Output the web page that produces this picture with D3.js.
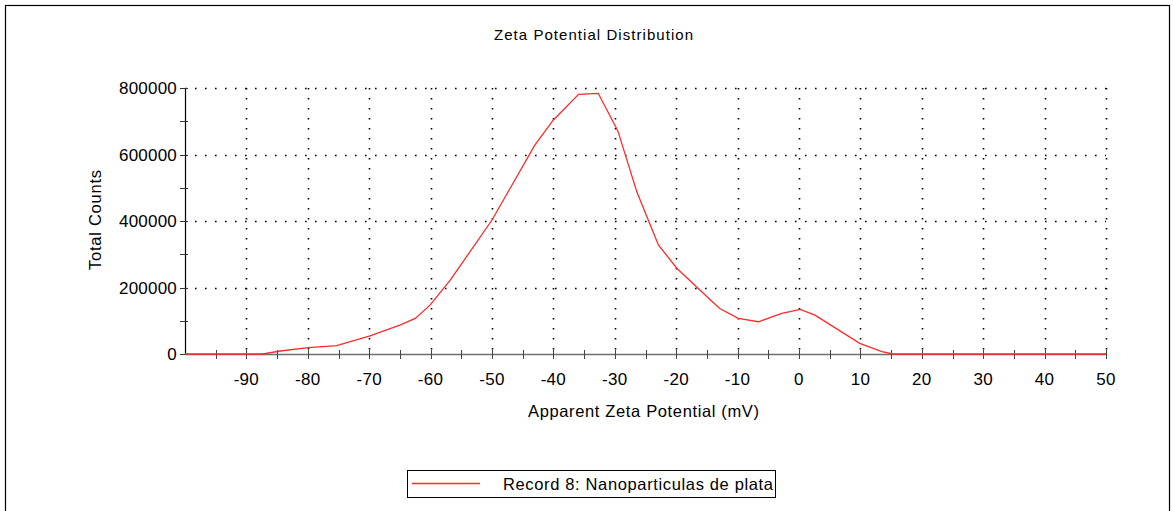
<!DOCTYPE html>
<html>
<head>
<meta charset="utf-8">
<script src="https://cdn.jsdelivr.net/npm/d3@7"></script>
<style>
  body { margin: 0; background: #fff; }
  svg { display: block; font-family: "Liberation Sans", Arial, sans-serif; }
</style>
</head>
<body>
<div id="chart"></div>
<script>
"use strict";

// data
const zetaMv = [-100, -87.3, -84.5, -79.9, -75.3, -70.0, -65.0, -62.5, -60.1, -56.8, -50.0,
  -43.0, -40.0, -35.9, -32.7, -29.5, -26.4, -22.9, -19.9, -14.5, -12.9, -9.9, -6.6,
  -2.8, 0.2, 2.6, 9.9, 13.5, 15.3, 50];
const totalCounts = [0, 0, 9000, 19000, 25000, 54000, 87000, 107000, 147000, 222000, 403000,
  629000, 704000, 781000, 784000, 671000, 487000, 328000, 258000, 164000, 137000, 107000, 97000,
  122000, 134000, 117000, 32000, 7000, 0, 0];

const xMajorTicks = [-90, -80, -70, -60, -50, -40, -30, -20, -10, 0, 10, 20, 30, 40, 50];
const xMinorTicks = [-95, -85, -75, -65, -55, -45, -35, -25, -15, -5, 5, 15, 25, 35, 45];
const yMajorTicks = [0, 200000, 400000, 600000, 800000];
const yMinorTicks = [100000, 300000, 500000, 700000];

const chartTitle = "Zeta Potential Distribution";
const xTitle = "Apparent Zeta Potential (mV)";
const yTitle = "Total Counts";
const legendLabel = "Record 8: Nanoparticulas de plata";

const W = 1174, H = 511;
const margin = { top: 88, right: 68, bottom: 157, left: 185 };
const plotW = W - margin.left - margin.right;
const plotH = H - margin.top - margin.bottom;

const svg = d3.select("#chart").append("svg")
  .attr("width", W)
  .attr("height", H);

// outer frame
svg.append("rect")
  .attr("x", 5.5).attr("y", 5.5)
  .attr("width", 1164).attr("height", 520)
  .attr("fill", "none").attr("stroke", "#000").attr("stroke-width", 1.2);

const x = d3.scaleLinear().domain([-100, 50]).range([0, plotW]);
const y = d3.scaleLinear().domain([0, 800000]).range([plotH, 0]);

const g = svg.append("g")
  .attr("transform", "translate(" + margin.left + "," + margin.top + ")");

// dotted grid
g.append("g").selectAll("line.vg")
  .data(xMajorTicks)
  .join("line")
  .attr("class", "vg")
  .attr("x1", d => Math.round(x(d)) + 0.5).attr("x2", d => Math.round(x(d)) + 0.5)
  .attr("y1", 0).attr("y2", plotH)
  .attr("stroke", "#000").attr("stroke-width", 1.6)
  .attr("stroke-dasharray", "1.6 8.4");

g.append("g").selectAll("line.hg")
  .data(yMajorTicks.filter(d => d > 0))
  .join("line")
  .attr("class", "hg")
  .attr("x1", 0).attr("x2", plotW)
  .attr("y1", d => Math.round(y(d)) + 0.5).attr("y2", d => Math.round(y(d)) + 0.5)
  .attr("stroke", "#000").attr("stroke-width", 1.6)
  .attr("stroke-dasharray", "1.6 8.4");

// x axis
const xAxis = g.append("g").attr("transform", "translate(0," + plotH + ")");
xAxis.append("line")
  .attr("x1", 0).attr("x2", plotW).attr("y1", 0.5).attr("y2", 0.5)
  .attr("stroke", "#6e6e6e").attr("stroke-width", 1.6);
xAxis.selectAll("line.tk")
  .data(xMajorTicks.concat(xMinorTicks))
  .join("line")
  .attr("class", "tk")
  .attr("x1", d => Math.round(x(d)) + 0.5).attr("x2", d => Math.round(x(d)) + 0.5)
  .attr("y1", -4).attr("y2", 5)
  .attr("stroke", "#444").attr("stroke-width", 1);
xAxis.selectAll("text")
  .data(xMajorTicks)
  .join("text")
  .attr("x", d => x(d))
  .attr("y", 31)
  .attr("text-anchor", "middle")
  .attr("font-size", 17)
  .attr("letter-spacing", 0.3)
  .attr("fill", "#000")
  .text(d => d);

// y axis
const yAxis = g.append("g");
yAxis.append("line")
  .attr("x1", 0.5).attr("x2", 0.5).attr("y1", 0).attr("y2", plotH)
  .attr("stroke", "#000").attr("stroke-width", 1.2);
yAxis.selectAll("line.tk")
  .data(yMajorTicks.concat(yMinorTicks))
  .join("line")
  .attr("class", "tk")
  .attr("x1", -5).attr("x2", 3)
  .attr("y1", d => Math.round(y(d)) + 0.5).attr("y2", d => Math.round(y(d)) + 0.5)
  .attr("stroke", "#333").attr("stroke-width", 1);
yAxis.selectAll("text")
  .data(yMajorTicks)
  .join("text")
  .attr("x", -8)
  .attr("y", d => y(d) + 6)
  .attr("text-anchor", "end")
  .attr("font-size", 17)
  .attr("letter-spacing", 0.2)
  .attr("fill", "#000")
  .text(d => d);

// red curve
const line = d3.line()
  .x((d, i) => x(zetaMv[i]))
  .y(d => y(d));
g.append("path")
  .datum(totalCounts)
  .attr("d", line)
  .attr("fill", "none")
  .attr("stroke", "#ff2a2a")
  .attr("stroke-width", 1.3);

// titles
svg.append("text")
  .attr("x", 494).attr("y", 40)
  .attr("font-size", 15)
  .attr("textLength", 199)
  .attr("lengthAdjust", "spacing")
  .text(chartTitle);

svg.append("text")
  .attr("x", 528).attr("y", 417)
  .attr("font-size", 16.5)
  .attr("textLength", 231)
  .attr("lengthAdjust", "spacing")
  .text(xTitle);

svg.append("text")
  .attr("transform", "translate(101,270) rotate(-90)")
  .attr("font-size", 16.5)
  .attr("textLength", 100)
  .attr("lengthAdjust", "spacing")
  .text(yTitle);

// legend
const lg = svg.append("g");
lg.append("rect")
  .attr("x", 407.5).attr("y", 470.5)
  .attr("width", 368).attr("height", 27)
  .attr("fill", "#fff").attr("stroke", "#000").attr("stroke-width", 1);
lg.append("line")
  .attr("x1", 412).attr("x2", 480).attr("y1", 483.5).attr("y2", 483.5)
  .attr("stroke", "#ff2a2a").attr("stroke-width", 1.3);
lg.append("text")
  .attr("x", 503).attr("y", 490)
  .attr("font-size", 16.5)
  .attr("textLength", 270)
  .attr("lengthAdjust", "spacing")
  .text(legendLabel);
</script>
</body>
</html>
